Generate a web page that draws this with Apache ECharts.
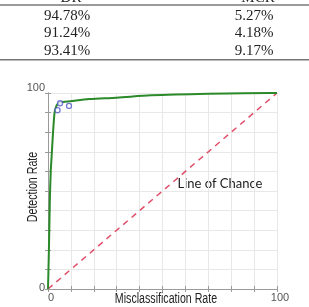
<!DOCTYPE html>
<html>
<head>
<meta charset="utf-8">
<script src="https://cdn.jsdelivr.net/npm/echarts@6/dist/echarts.min.js"></script>
<style>
  html, body { margin: 0; padding: 0; background: #fff; }
  #chart { width: 309px; height: 307px; }
</style>
</head>
<body>
<div id="chart"></div>
<script>
// table rows above the plot
const tableHead = ['DR', 'MCR'];
const drValues = ['94.78%', '91.24%', '93.41%'];
const mcrValues = ['5.27%', '4.18%', '9.17%'];

// ROC curve (misclassification rate vs detection rate)
const rocX = [0, 0.4, 0.8, 1.2, 1.6, 2.0, 2.5, 3.1, 4.5, 6.5, 9.6, 18, 30, 45, 70, 97, 100];
const rocY = [0, 20, 45, 60, 68, 76, 85, 91.5, 94.9, 95.4, 95.8, 96.9, 97.6, 98.8, 99.6, 100, 100];

// line of chance
const chanceX = [0, 100];
const chanceY = [0, 100];

const axisTicks = [0, 100];
const xName = 'Misclassification Rate';
const yName = 'Detection Rate';

const chart = echarts.init(document.getElementById('chart'));

/*表格文字 */
const tableText = [];
const colX = [67, 254];
tableHead.forEach((h, i) => {
  tableText.push({
    type: 'text', x: colX[i] + 4, y: -2,
    style: { text: h, font: '15px "Liberation Serif"', fill: '#222', align: 'center', verticalAlign: 'middle' }
  });
});
drValues.forEach((v, i) => {
  const y = 16 + i * 17.5;
  tableText.push({
    type: 'text', x: colX[0], y: y,
    style: { text: v, font: '15px "Liberation Serif"', fill: '#222', align: 'center', verticalAlign: 'middle' }
  });
  tableText.push({
    type: 'text', x: colX[1], y: y,
    style: { text: mcrValues[i], font: '15px "Liberation Serif"', fill: '#222', align: 'center', verticalAlign: 'middle' }
  });
});

const boxAxis = {
  type: 'value', min: 0, max: 100, interval: 10,
  axisLine: { show: true, lineStyle: { color: '#9a9a9a', width: 1 } },
  axisTick: { show: true, inside: true, length: 3, lineStyle: { color: '#9a9a9a' } },
  axisLabel: { show: false },
  splitLine: { show: false }
};

const labelFont = { color: '#555', fontSize: 11, fontFamily: '"Liberation Sans", Arial, sans-serif' };

let option = {
  animation: false,
  backgroundColor: '#fff',
  grid: { left: 48, right: 32, top: 93, bottom: 18, containLabel: false, outerBoundsMode: 'none' },
  xAxis: [{
    type: 'value', min: 0, max: 100, interval: 10,
    axisLine: { show: true, lineStyle: { color: '#9a9a9a', width: 1 } },
    axisTick: { show: true, inside: true, length: 3, lineStyle: { color: '#9a9a9a' } },
    axisLabel: Object.assign({
      margin: 3,
      formatter: v => axisTicks.indexOf(v) >= 0 ? '{t|' + v + '}' : '',
      rich: { t: Object.assign({ padding: [0, 0, 0, 6] }, labelFont) }
    }, labelFont),
    splitLine: { show: true, lineStyle: { color: '#e8e8e8', width: 1 } }
  }, Object.assign({ position: 'top' }, boxAxis)],
  yAxis: [{
    type: 'value', min: 0, max: 100, interval: 10,
    axisLine: { show: true, lineStyle: { color: '#9a9a9a', width: 1 } },
    axisTick: { show: true, inside: true, length: 3, lineStyle: { color: '#9a9a9a' } },
    axisLabel: Object.assign({
      margin: 3,
      formatter: v => v === 100 ? '{hi|100}' : (v === 0 ? '{lo|0}' : ''),
      rich: {
        hi: Object.assign({ padding: [0, 0, 10, 0] }, labelFont),
        lo: Object.assign({ padding: [0, 0, 3, 0] }, labelFont)
      }
    }, labelFont),
    splitLine: { show: true, lineStyle: { color: '#e8e8e8', width: 1 } }
  }, Object.assign({ position: 'right' }, boxAxis)],
  series: [{
    type: 'line',
    data: chanceX.map((x, i) => [x, chanceY[i]]),
    symbol: 'none',
    lineStyle: { color: '#e0506a', width: 1.5, type: [6, 5] },
    z: 2
  }, {
    type: 'line',
    data: rocX.map((x, i) => [x, rocY[i]]),
    symbol: 'none',
    smooth: 0.3,
    lineStyle: { color: '#2a8a2a', width: 2 },
    z: 3
  }, {
    type: 'scatter',
    data: mcrValues.map((m, i) => [parseFloat(m), parseFloat(drValues[i])]),
    symbol: 'circle',
    symbolSize: 5,
    itemStyle: { color: '#fff', borderColor: '#5058c8', borderWidth: 1.3 },
    z: 4
  }],
  graphic: [
    { type: 'rect', shape: { x: 0, y: 4, width: 309, height: 2 }, style: { fill: '#9a9a9a' } },
    { type: 'rect', shape: { x: 0, y: 59, width: 309, height: 1.5 }, style: { fill: '#777' } },
    {
      type: 'text', x: 220, y: 184,
      style: { text: 'Line of Chance', font: '13px Lato', fill: '#222', align: 'center', verticalAlign: 'middle' }
    },
    // axis names, narrow font look
    {
      type: 'text', x: 166, y: 299, scaleX: 0.76,
      style: { text: xName, font: '14px "Liberation Sans"', fill: '#222', align: 'center', verticalAlign: 'middle' }
    },
    {
      type: 'text', x: 33, y: 187, rotation: Math.PI / 2, scaleX: 0.76,
      style: { text: yName, font: '14px "Liberation Sans"', fill: '#222', align: 'center', verticalAlign: 'middle' }
    }
  ].concat(tableText)
};

chart.setOption(option);
</script>
</body>
</html>
